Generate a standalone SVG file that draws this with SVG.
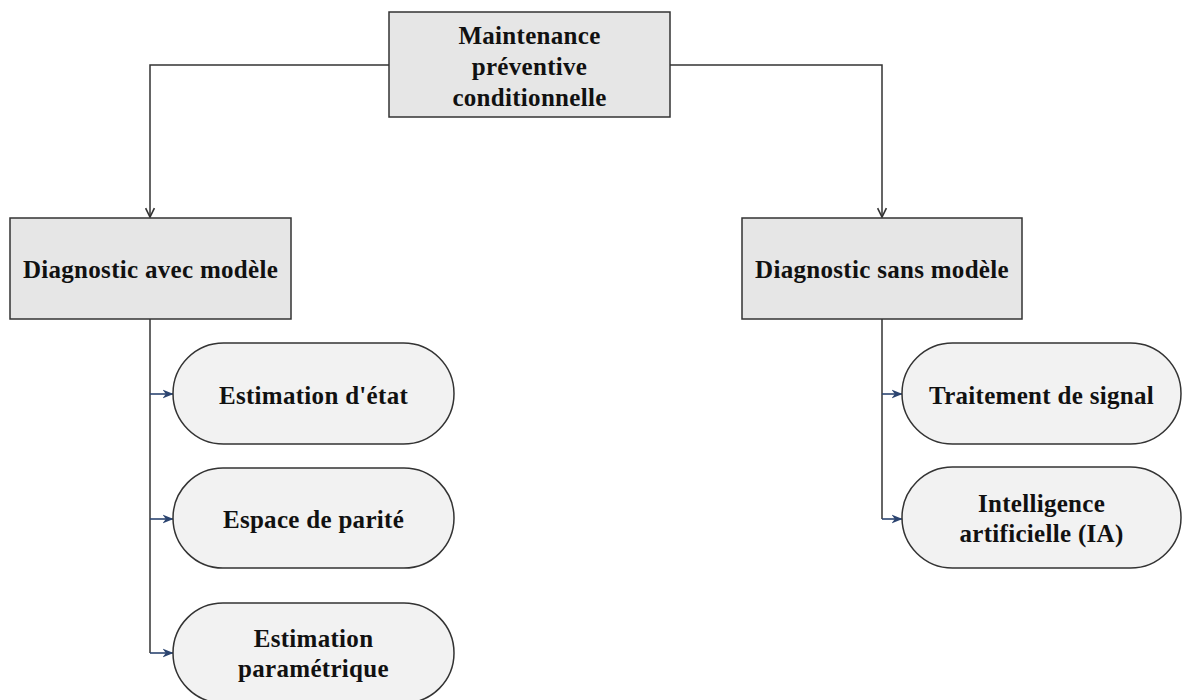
<svg xmlns="http://www.w3.org/2000/svg" width="1182" height="700" viewBox="0 0 1182 700">
  <style>
    .box { fill: #e6e6e6; stroke: #333333; stroke-width: 1.5; }
    .pill { fill: #f2f2f2; stroke: #333333; stroke-width: 1.5; }
    .lbl { font-family: "Liberation Serif", "Times New Roman", serif; font-weight: bold; font-size: 25px; letter-spacing: 0.3px; fill: #111111; text-anchor: middle; }
    .trunk { fill: none; stroke: #333333; stroke-width: 1.5; }
    .branch { fill: none; stroke: #2b4470; stroke-width: 1.6; }
  </style>
  <defs>
    <marker id="openArrow" viewBox="0 0 10 10" refX="9" refY="5" markerWidth="11" markerHeight="11" markerUnits="userSpaceOnUse" orient="auto">
      <path d="M1,1 L9,5 L1,9" fill="none" stroke="#333333" stroke-width="1.5"/>
    </marker>
    <marker id="navyArrow" viewBox="0 0 10 10" refX="9.5" refY="5" markerWidth="11" markerHeight="11" markerUnits="userSpaceOnUse" orient="auto">
      <path d="M0,1 L10,5 L0,9 L3,5 Z" fill="#2b4470"/>
    </marker>
  </defs>

  <rect width="1182" height="700" fill="#ffffff"/>

  <g id="connectors">
    <!-- root to the two diagnostic families -->
    <path class="trunk" d="M389,65 H150 V217" marker-end="url(#openArrow)"/>
    <path class="trunk" d="M670,65 H882 V217" marker-end="url(#openArrow)"/>
    <!-- model-based branches -->
    <path class="trunk" d="M150,319 V653"/>
    <path class="branch" d="M150,394 H173" marker-end="url(#navyArrow)"/>
    <path class="branch" d="M150,519 H173" marker-end="url(#navyArrow)"/>
    <path class="branch" d="M150,653 H173" marker-end="url(#navyArrow)"/>
    <!-- model-free branches -->
    <path class="trunk" d="M882,319 V519"/>
    <path class="branch" d="M882,394 H902" marker-end="url(#navyArrow)"/>
    <path class="branch" d="M882,519 H902" marker-end="url(#navyArrow)"/>
  </g>

  <g id="root">
    <rect class="box" x="389" y="12" width="281" height="105"/>
    <text class="lbl" x="529.5" y="44">Maintenance</text>
    <text class="lbl" x="529.5" y="75">préventive</text>
    <text class="lbl" x="529.5" y="106">conditionnelle</text>
  </g>

  <g id="avec-modele">
    <rect class="box" x="10" y="218" width="281" height="101"/>
    <text class="lbl" x="150.5" y="278">Diagnostic avec modèle</text>
  </g>

  <g id="sans-modele">
    <rect class="box" x="742" y="218" width="280" height="101"/>
    <text class="lbl" x="882" y="278">Diagnostic sans modèle</text>
  </g>

  <g id="estimation-etat">
    <rect class="pill" x="173" y="343" width="281" height="101" rx="50.5" ry="50.5"/>
    <text class="lbl" x="313.5" y="404">Estimation d'état</text>
  </g>

  <g id="espace-parite">
    <rect class="pill" x="173" y="468" width="281" height="100" rx="50" ry="50"/>
    <text class="lbl" x="313.5" y="528">Espace de parité</text>
  </g>

  <g id="estimation-parametrique">
    <rect class="pill" x="173" y="603" width="281" height="100" rx="50" ry="50"/>
    <text class="lbl" x="313.5" y="647">Estimation</text>
    <text class="lbl" x="313.5" y="677">paramétrique</text>
  </g>

  <g id="traitement-signal">
    <rect class="pill" x="902" y="343" width="279" height="101" rx="50.5" ry="50.5"/>
    <text class="lbl" x="1041.5" y="404">Traitement de signal</text>
  </g>

  <g id="intelligence-artificielle">
    <rect class="pill" x="902" y="467" width="279" height="101" rx="50.5" ry="50.5"/>
    <text class="lbl" x="1041.5" y="512">Intelligence</text>
    <text class="lbl" x="1041.5" y="542">artificielle (IA)</text>
  </g>
</svg>
